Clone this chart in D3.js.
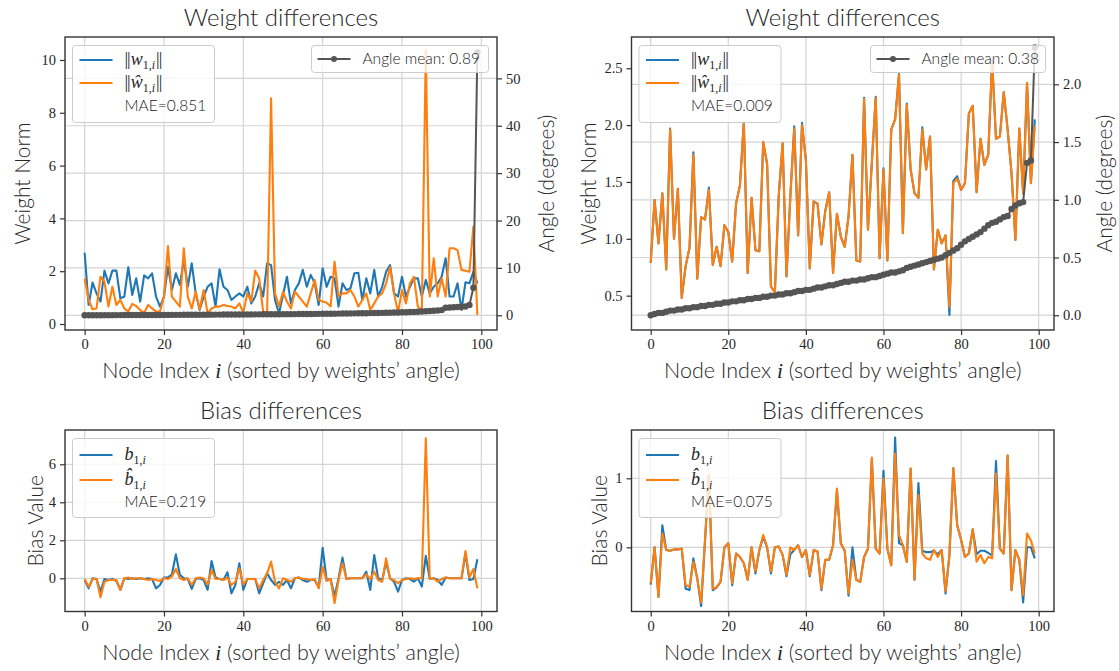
<!DOCTYPE html>
<html><head><meta charset="utf-8">
<script src="https://cdn.jsdelivr.net/npm/d3@7"></script>
<style>body{margin:0;background:#fff}</style>
</head><body>
<svg id="c" width="1119" height="671" xmlns="http://www.w3.org/2000/svg"></svg>
<script>
// ---------------- DATA ----------------
const nodeIndex = d3.range(100);
const xTickValues = [0, 20, 40, 60, 80, 100];

// Top-left: weight norms (left axis) and angle (right axis, degrees)
const tlWNorm = [2.70,0.72,1.57,1.16,0.85,2.02,1.54,2.02,2.02,0.97,
1.04,2.15,1.10,1.73,0.85,1.84,1.73,1.92,1.04,0.66,
1.04,2.17,1.29,1.92,1.48,2.42,1.41,2.30,1.16,0.53,
1.04,1.41,1.54,0.66,2.07,1.41,1.29,0.91,1.04,1.16,
1.04,1.41,0.78,1.04,1.54,1.04,2.30,2.23,0.90,0.40,
1.10,1.79,0.78,1.29,1.54,2.05,1.41,1.86,1.54,0.72,
2.11,1.41,1.79,1.73,0.66,1.54,1.29,1.35,1.92,1.94,
0.91,1.73,1.16,2.05,1.04,1.41,1.98,2.23,1.16,1.04,
1.79,1.04,1.41,1.73,1.73,1.04,1.67,1.16,1.41,1.54,
1.79,2.49,1.04,1.04,1.54,0.53,1.58,1.54,1.98,1.54];
const tlWHatNorm = [1.73,0.91,0.56,0.59,1.79,1.60,0.66,1.41,0.72,0.91,
0.59,0.47,0.76,0.68,0.53,0.43,0.72,0.59,0.47,0.47,
1.04,2.95,1.04,0.85,0.66,2.87,1.04,0.59,1.22,0.56,
1.29,0.40,0.59,0.66,0.66,0.72,0.68,0.66,0.59,0.78,
0.43,1.16,0.85,2.02,1.73,0.47,0.43,8.55,1.16,0.66,
1.22,0.85,0.59,1.22,1.04,0.85,0.66,1.16,1.67,0.91,
0.85,0.81,0.66,2.36,1.04,1.16,1.16,1.29,1.04,0.66,
0.91,1.16,0.53,0.78,1.04,1.16,1.54,2.15,1.16,0.43,
1.29,0.78,1.54,1.79,0.66,0.51,10.38,1.04,2.49,1.04,
1.73,1.04,2.87,2.87,2.80,2.05,2.02,1.98,3.69,0.34];
const tlAngle = [0.00,0.01,0.01,0.02,0.02,0.03,0.03,0.03,0.04,0.04,
0.05,0.05,0.05,0.06,0.06,0.07,0.07,0.07,0.08,0.08,
0.09,0.09,0.10,0.10,0.10,0.11,0.11,0.12,0.12,0.13,
0.13,0.14,0.14,0.15,0.15,0.16,0.16,0.17,0.17,0.18,
0.18,0.19,0.19,0.20,0.20,0.21,0.22,0.22,0.23,0.23,
0.24,0.25,0.25,0.26,0.27,0.28,0.28,0.29,0.30,0.31,
0.32,0.33,0.34,0.35,0.36,0.37,0.38,0.40,0.41,0.42,
0.44,0.45,0.47,0.48,0.50,0.52,0.54,0.56,0.58,0.60,
0.63,0.66,0.69,0.72,0.76,0.80,0.85,0.90,0.96,1.02,
1.10,1.60,1.65,1.70,1.75,1.80,1.85,2.20,5.80,55.5];

// Top-right
const trWNorm = [0.79,1.34,0.96,1.40,0.73,1.97,1.00,1.44,0.48,0.76,
0.92,1.76,0.65,1.19,1.17,1.45,0.77,0.93,0.76,1.12,
1.06,0.80,1.31,1.47,2.03,0.70,1.36,0.90,0.89,1.85,
1.66,0.58,0.53,1.38,1.84,0.67,1.38,1.99,1.03,2.02,
1.69,0.74,1.33,1.31,0.95,1.25,1.41,0.70,1.22,1.02,
0.93,1.20,1.74,0.81,0.80,2.24,1.08,1.67,2.25,0.83,
1.62,0.81,1.96,2.05,2.45,1.05,2.19,1.61,1.40,1.36,
1.98,1.61,1.90,0.73,1.08,0.96,1.03,0.33,1.51,1.55,
1.43,1.49,2.10,2.17,1.41,1.88,1.65,1.74,2.57,1.88,
1.90,2.29,1.96,1.58,0.99,1.97,1.40,2.37,1.49,2.05];
const trWHatNorm = [0.79,1.34,0.96,1.40,0.73,1.96,1.00,1.44,0.48,0.76,
0.92,1.74,0.65,1.19,1.17,1.43,0.77,0.93,0.76,1.12,
1.06,0.80,1.31,1.47,2.02,0.70,1.36,0.90,0.89,1.85,
1.66,0.58,0.53,1.38,1.84,0.67,1.38,1.97,1.03,2.00,
1.69,0.74,1.33,1.31,0.95,1.24,1.41,0.70,1.22,1.02,
0.93,1.20,1.74,0.81,0.80,2.23,1.08,1.67,2.24,0.83,
1.61,0.81,1.96,2.05,2.44,1.05,2.18,1.61,1.40,1.36,
1.96,1.61,1.90,0.73,1.08,0.96,1.03,0.40,1.49,1.53,
1.43,1.49,2.10,2.17,1.41,1.88,1.65,1.74,2.57,1.88,
1.90,2.29,1.96,1.58,0.99,1.97,1.40,2.37,1.49,1.99];
const trAngle = [0.00,0.01,0.02,0.02,0.03,0.04,0.04,0.05,0.05,0.06,
0.06,0.07,0.07,0.08,0.08,0.09,0.09,0.10,0.10,0.11,
0.11,0.12,0.12,0.13,0.13,0.14,0.14,0.15,0.15,0.16,
0.16,0.17,0.17,0.18,0.18,0.19,0.19,0.20,0.21,0.21,
0.22,0.22,0.23,0.24,0.24,0.25,0.26,0.26,0.27,0.28,
0.29,0.29,0.30,0.30,0.31,0.31,0.32,0.33,0.33,0.34,
0.35,0.36,0.37,0.37,0.38,0.39,0.41,0.42,0.43,0.44,
0.45,0.46,0.47,0.48,0.49,0.50,0.52,0.54,0.56,0.58,
0.61,0.64,0.66,0.68,0.70,0.72,0.75,0.78,0.80,0.81,
0.83,0.85,0.86,0.92,0.95,0.97,0.98,1.32,1.34,2.32];

// Bottom-left: biases
const blBias = [-0.09,-0.53,0.00,-0.04,-0.70,-0.04,-0.09,-0.04,-0.14,-0.61,
0.00,-0.04,0.00,-0.04,0.00,-0.04,0.00,-0.04,-0.53,-0.35,
0.04,0.05,0.20,1.26,0.18,0.00,-0.04,-0.56,-0.04,0.00,
-0.09,-0.61,0.91,0.04,-0.04,-0.09,0.32,-0.79,-0.35,0.79,
-0.61,-0.04,-0.04,-0.04,-0.79,-0.26,0.26,-0.09,-0.35,-0.18,
-0.35,-0.09,-0.53,0.00,0.04,-0.09,-0.18,-0.09,-0.09,-0.49,
1.61,-0.09,-0.04,-0.95,0.00,1.09,-0.04,0.00,0.00,0.00,
0.00,0.35,-0.61,1.23,0.00,-0.09,0.84,0.00,-0.18,-0.70,
-0.09,0.00,-0.04,-0.18,0.00,-0.44,1.18,-0.04,0.00,-0.09,
-0.35,0.04,0.00,0.00,0.00,0.00,1.30,-0.09,-0.04,1.00];
const blBiasHat = [-0.04,-0.44,-0.04,-0.04,-1.00,-0.18,-0.09,-0.09,-0.09,-0.61,
0.00,0.04,-0.04,0.00,0.00,-0.04,-0.09,-0.04,-0.09,-0.14,
0.00,-0.04,0.09,0.49,0.00,-0.09,0.00,-0.35,0.00,0.04,
0.00,-0.32,0.44,-0.04,-0.04,-0.09,0.04,-0.35,-0.18,0.53,
-0.32,-0.04,-0.04,-0.04,-0.53,-0.09,0.26,0.88,-0.18,-0.53,
0.00,-0.09,-0.18,0.00,0.04,-0.04,-0.04,-0.09,-0.04,-0.53,
0.61,-0.14,-0.04,-1.30,-0.09,0.79,-0.04,0.00,0.00,0.00,
0.00,0.21,-0.04,0.35,-0.09,-0.18,1.05,-0.04,-0.09,-0.26,
-0.09,-0.04,0.00,-0.04,0.00,0.00,7.37,-0.04,0.00,-0.18,
-0.04,0.04,0.00,0.00,0.00,0.00,1.44,0.04,0.49,-0.53];

// Bottom-right
const brBias = [-0.54,0.00,-0.72,0.32,-0.04,-0.05,-0.03,-0.03,-0.02,-0.60,
-0.62,-0.16,-0.45,-0.85,0.10,1.05,-0.62,-0.58,-0.50,0.00,
0.06,-0.55,-0.09,-0.14,-0.23,-0.47,0.00,-0.38,-0.04,0.15,
0.00,-0.38,0.00,0.01,-0.11,-0.42,-0.10,-0.04,0.03,-0.14,
-0.04,-0.42,-0.04,-0.06,-0.62,-0.18,-0.18,0.03,0.82,0.06,
-0.05,-0.70,0.00,-0.47,-0.50,-0.14,-0.02,1.28,-0.02,-0.09,
1.11,-0.02,-0.26,1.59,0.06,0.03,-0.21,1.14,-0.47,0.93,
-0.05,-0.07,-0.07,-0.05,-0.10,-0.04,-0.67,-0.11,1.15,0.32,
0.11,-0.14,-0.09,0.26,-0.10,-0.05,-0.05,-0.08,-0.12,1.25,
-0.02,-0.09,1.33,-0.62,-0.04,-0.18,-0.80,0.00,0.00,-0.16];
const brBiasHat = [-0.52,0.00,-0.72,0.20,-0.04,-0.05,-0.03,-0.03,-0.02,-0.55,
-0.57,-0.21,-0.45,-0.80,0.10,1.05,-0.60,-0.58,-0.50,0.00,
0.06,-0.52,-0.09,-0.14,-0.23,-0.47,0.00,-0.35,-0.04,0.18,
0.00,-0.35,0.00,0.01,-0.11,-0.40,0.00,-0.04,0.03,-0.14,
-0.04,-0.40,-0.04,-0.06,-0.60,-0.18,-0.18,0.03,0.85,0.06,
-0.05,-0.67,-0.18,-0.47,-0.50,-0.14,-0.02,1.30,-0.02,-0.09,
1.00,-0.02,-0.26,1.36,0.18,0.03,-0.21,1.14,-0.47,0.76,
-0.09,-0.16,-0.18,-0.04,-0.14,-0.04,-0.64,-0.11,1.15,0.32,
0.11,-0.14,-0.09,0.26,-0.21,-0.11,-0.23,-0.14,-0.16,1.07,
-0.02,-0.09,1.33,-0.62,-0.04,-0.18,-0.69,0.20,0.10,-0.09];

// ---------------- DRAWING ----------------
const svg = d3.select('#c');
const SANS = 'Lato, "Open Sans", "DejaVu Sans", sans-serif';
const SERIF = '"Liberation Serif", "DejaVu Serif", serif';
const TXT = '#262626';
const BLUE = '#1f77b4', ORANGE = '#ff7f0e', GRAY = '#555555';

function mathLabel(g, x, y, base, norm) {
  const t = g.append('text').attr('x', x).attr('y', y)
    .attr('font-family', SERIF).attr('font-size', 18).attr('fill', TXT);
  if (norm) t.append('tspan').attr('letter-spacing', -1).text('||');
  t.append('tspan').attr('font-style', 'italic').attr('dx', norm ? 1 : 0).text(base);
  t.append('tspan').attr('font-size', 12).attr('dy', 4).text('1,');
  t.append('tspan').attr('font-size', 12).attr('font-style', 'italic').text('i');
  if (norm) t.append('tspan').attr('dy', -4).attr('dx', 1).attr('letter-spacing', -1).text('||');
}

function legendBox(g, x, y, w, h) {
  g.append('rect').attr('x', x).attr('y', y).attr('width', w).attr('height', h).attr('rx', 3)
    .attr('fill', '#fff').attr('fill-opacity', 0.8).attr('stroke', '#cccccc').attr('stroke-width', 1);
}

function drawPanel(p) {
  const g = svg.append('g');
  const x = d3.scaleLinear().domain([-4.95, 103.95]).range([p.x0, p.x1]);
  const yL = d3.scaleLinear().domain(p.yDomL).range([p.y1, p.y0]);
  const yR = p.yDomR ? d3.scaleLinear().domain(p.yDomR).range([p.y1, p.y0]) : null;

  // grid
  const grid = g.append('g').attr('stroke', '#d4d4d4').attr('stroke-width', 1.2);
  xTickValues.forEach(t => grid.append('line').attr('x1', x(t)).attr('x2', x(t)).attr('y1', p.y0).attr('y2', p.y1));
  const gs = p.gridRight ? yR : yL, gt = p.gridRight ? p.yTicksR : p.yTicksL;
  gt.forEach(t => grid.append('line').attr('x1', p.x0).attr('x2', p.x1).attr('y1', gs(t)).attr('y2', gs(t)));

  // primary lines
  const lineL = d3.line().x((d, i) => x(nodeIndex[i])).y(d => yL(d));
  g.append('path').datum(p.blue).attr('d', lineL).attr('fill', 'none').attr('stroke', BLUE).attr('stroke-width', 2.1).attr('stroke-linejoin', 'round');
  g.append('path').datum(p.orange).attr('d', lineL).attr('fill', 'none').attr('stroke', ORANGE).attr('stroke-width', 2.1).attr('stroke-linejoin', 'round');

  // legend 1
  const lx = p.x0 + 7.5, ly = p.y0 + 8.5;
  const lg = g.append('g');
  legendBox(lg, lx, ly, 142, p.legH);
  const rows = p.legRows;
  lg.append('line').attr('x1', lx + 7).attr('x2', lx + 40).attr('y1', rows[0]).attr('y2', rows[0]).attr('stroke', BLUE).attr('stroke-width', 2.2);
  lg.append('line').attr('x1', lx + 7).attr('x2', lx + 40).attr('y1', rows[1]).attr('y2', rows[1]).attr('stroke', ORANGE).attr('stroke-width', 2.2);
  mathLabel(lg, lx + 52, rows[0] + 5, p.sym1, p.norm);
  mathLabel(lg, lx + 52, rows[1] + 5, p.sym2, p.norm);
  lg.append('text').attr('x', lx + 52).attr('y', rows[2] + 5).attr('font-family', SANS).attr('font-size', 15.5)
    .attr('font-weight', 300).attr('fill', '#1a1a1a').text(p.mae);

  // secondary axis line
  if (yR) {
    const lineR = d3.line().x((d, i) => x(nodeIndex[i])).y(d => yR(d));
    g.append('path').datum(p.angle).attr('d', lineR).attr('fill', 'none').attr('stroke', GRAY).attr('stroke-width', 2);
    g.append('g').selectAll('circle').data(p.angle).join('circle')
      .attr('cx', (d, i) => x(nodeIndex[i])).attr('cy', d => yR(d)).attr('r', 3.2).attr('fill', GRAY);
    const w2 = p.leg2W, l2x = p.x1 - 8.5 - w2, l2y = p.y0 + 8.5;
    const l2 = g.append('g');
    legendBox(l2, l2x, l2y, w2, 27);
    l2.append('line').attr('x1', l2x + 6).attr('x2', l2x + 39).attr('y1', l2y + 13.5).attr('y2', l2y + 13.5).attr('stroke', GRAY).attr('stroke-width', 2);
    l2.append('circle').attr('cx', l2x + 22.5).attr('cy', l2y + 13.5).attr('r', 3).attr('fill', GRAY);
    l2.append('text').attr('x', l2x + 51).attr('y', l2y + 18.5).attr('font-family', SANS).attr('font-size', 15.5)
      .attr('font-weight', 300).attr('fill', '#1a1a1a').text(p.leg2Text);
  }

  // axes
  const styleAxis = a => { a.select('.domain').remove(); a.selectAll('line').attr('stroke', '#333').attr('stroke-width', 1.2);
    a.selectAll('text').attr('fill', TXT).attr('font-family', SERIF).attr('font-size', 14.5); };
  g.append('g').attr('transform', `translate(0,${p.y1})`)
    .call(d3.axisBottom(x).tickValues(xTickValues).tickSize(5).tickPadding(4).tickFormat(d3.format('d'))).call(styleAxis);
  g.append('g').attr('transform', `translate(${p.x0},0)`)
    .call(d3.axisLeft(yL).tickValues(p.yTicksL).tickSize(5).tickPadding(4).tickFormat(p.fmtL)).call(styleAxis);
  if (yR) g.append('g').attr('transform', `translate(${p.x1},0)`)
    .call(d3.axisRight(yR).tickValues(p.yTicksR).tickSize(5).tickPadding(4).tickFormat(p.fmtR)).call(styleAxis);

  // frame
  g.append('rect').attr('x', p.x0).attr('y', p.y0).attr('width', p.x1 - p.x0).attr('height', p.y1 - p.y0)
    .attr('fill', 'none').attr('stroke', '#333').attr('stroke-width', 1.4);

  // texts
  const cx = (p.x0 + p.x1) / 2;
  g.append('text').attr('x', cx).attr('y', p.y0 - 11).attr('text-anchor', 'middle').attr('font-family', SANS)
    .attr('font-size', 24).attr('font-weight', 300).attr('fill', TXT).text(p.title);
  const xl = g.append('text').attr('x', cx).attr('y', p.y1 + 48).attr('text-anchor', 'middle').attr('font-family', SANS)
    .attr('font-size', 21.5).attr('font-weight', 300).attr('fill', TXT);
  xl.append('tspan').text('Node Index ');
  xl.append('tspan').attr('font-family', SERIF).attr('font-style', 'italic').attr('font-weight', 400).text('i');
  xl.append('tspan').text(' (sorted by weights\u2019 angle)');
  const cy = (p.y0 + p.y1) / 2;
  g.append('text').attr('transform', `translate(${p.ylx},${cy}) rotate(-90)`).attr('text-anchor', 'middle')
    .attr('dominant-baseline', 'central').attr('font-family', SANS).attr('font-size', 21).attr('font-weight', 300)
    .attr('fill', TXT).text(p.ylabel);
  if (p.ylabelR) g.append('text').attr('transform', `translate(${p.yrx},${cy}) rotate(-90)`).attr('text-anchor', 'middle')
    .attr('dominant-baseline', 'central').attr('font-family', SANS).attr('font-size', 21).attr('font-weight', 300)
    .attr('fill', TXT).text(p.ylabelR);
}

const f1 = d3.format('.1f'), fd = d3.format('d');

drawPanel({x0: 65, x1: 497, y0: 37, y1: 330,
  yDomL: [-0.227, 10.87], yTicksL: [0, 2, 4, 6, 8, 10], fmtL: fd,
  yDomR: [-3.1, 58.73], yTicksR: [0, 10, 20, 30, 40, 50], fmtR: fd, gridRight: true,
  blue: tlWNorm, orange: tlWHatNorm, angle: tlAngle,
  sym1: 'w', sym2: '\u0175', norm: true, mae: 'MAE=0.851', legH: 77, legRows: [60, 83, 106],
  leg2W: 177, leg2Text: 'Angle mean: 0.89',
  title: 'Weight differences', ylabel: 'Weight Norm', ylx: 21, ylabelR: 'Angle (degrees)', yrx: 545});

drawPanel({x0: 631.5, x1: 1054, y0: 37, y1: 330,
  yDomL: [0.198, 2.775], yTicksL: [0.5, 1.0, 1.5, 2.0, 2.5], fmtL: f1,
  yDomR: [-0.128, 2.41], yTicksR: [0.0, 0.5, 1.0, 1.5, 2.0], fmtR: f1, gridRight: true,
  blue: trWNorm, orange: trWHatNorm, angle: trAngle,
  sym1: 'w', sym2: '\u0175', norm: true, mae: 'MAE=0.009', legH: 77, legRows: [60, 83, 106],
  leg2W: 175, leg2Text: 'Angle mean: 0.38',
  title: 'Weight differences', ylabel: 'Weight Norm', ylx: 587, ylabelR: 'Angle (degrees)', yrx: 1103});

drawPanel({x0: 65, x1: 497, y0: 430, y1: 611.5,
  yDomL: [-1.747, 7.805], yTicksL: [0, 2, 4, 6], fmtL: fd,
  blue: blBias, orange: blBiasHat,
  sym1: 'b', sym2: 'b\u0302', norm: false, mae: 'MAE=0.219', legH: 79, legRows: [455, 480, 502],
  title: 'Bias differences', ylabel: 'Bias Value', ylx: 34});

drawPanel({x0: 631.5, x1: 1054, y0: 430, y1: 611.5,
  yDomL: [-0.93, 1.70], yTicksL: [0, 1], fmtL: fd,
  blue: brBias, orange: brBiasHat,
  sym1: 'b', sym2: 'b\u0302', norm: false, mae: 'MAE=0.075', legH: 79, legRows: [455, 480, 502],
  title: 'Bias differences', ylabel: 'Bias Value', ylx: 598});
</script>
</body></html>
